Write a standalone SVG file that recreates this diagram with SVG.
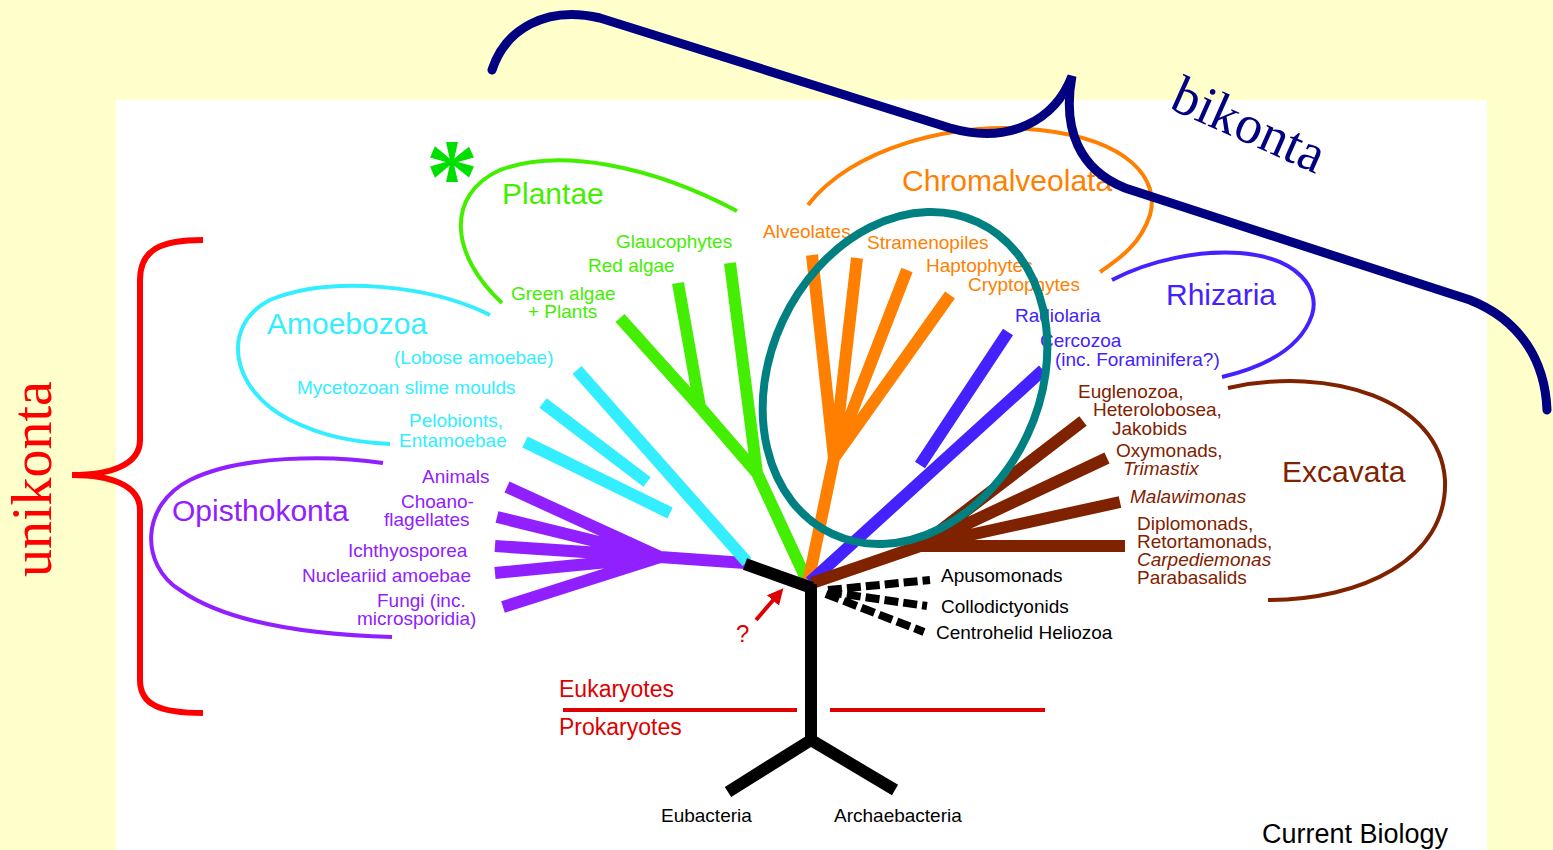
<svg xmlns="http://www.w3.org/2000/svg" width="1553" height="850" viewBox="0 0 1553 850">
<style>
text{font-family:"Liberation Sans",Arial,sans-serif}
.s{font-size:19px}
.b{font-size:30px}
.i{font-style:italic}
.loop{fill:none;stroke-width:4}
.br{fill:none;stroke-width:12;stroke-linecap:butt;stroke-linejoin:round}
.dash{fill:none;stroke:#000;stroke-width:8;stroke-dasharray:14 5}
.green{fill:#44EE00}.orange{fill:#FF8000}.blue{fill:#4422FF}.brown{fill:#7F2200}.cyan{fill:#33EEFF}.purple{fill:#9020FF}.blk{fill:#000}.red{fill:#DD0000}
</style>
<defs>
<marker id="ah" viewBox="0 0 10 10" refX="2" refY="5" markerWidth="4" markerHeight="4" orient="auto" markerUnits="strokeWidth">
<path d="M0 0 L10 5 L0 10 z" fill="#DD0000"/>
</marker>
</defs>
<rect width="1553" height="850" fill="#FFFFCC"/>
<rect x="116" y="100" width="1371" height="750" fill="#FFFFFF"/>

<g id="loops">
<path class="loop" stroke="#44EE00" d="M502 303 C450 255 445 195 500 170 C560 148 650 165 737 211"/>
<path class="loop" stroke="#FF8000" d="M808 205 C850 150 950 120 1040 130 C1130 140 1160 180 1150 215 C1140 245 1120 258 1100 272"/>
<path class="loop" stroke="#4422FF" d="M1112 280 C1150 260 1200 250 1240 253 C1300 258 1320 290 1312 315 C1300 350 1260 368 1222 377"/>
<path class="loop" stroke="#7F2200" d="M1228 388 C1330 365 1440 400 1445 480 C1448 560 1360 600 1268 600"/>
<path class="loop" stroke="#33EEFF" d="M490 315 C430 285 330 275 270 300 C220 325 230 390 290 420 C320 435 350 442 390 444"/>
<path class="loop" stroke="#9020FF" d="M383 463 C330 455 240 455 190 480 C140 505 140 565 180 590 C230 625 320 635 392 637"/>
</g>

<g id="connectors">
<path class="br" stroke="#9020FF" d="M745 563 L660 557 L507 487 M660 557 L497 517 M660 557 L495 546 M660 557 L495 573 M660 557 L503 607"/>
<path class="br" stroke="#33EEFF" d="M747 562 L577 370 M543 403 L647 482 M525 442 L670 513"/>
<path class="br" stroke="#44EE00" d="M808 583 L757 473 L700 407 L620 318 M808 583 L757 473 L730 263 M757 473 L700 407 L678 283"/>
<path class="br" stroke="#FF8000" d="M808 583 L834 458 L812 255 M808 583 L834 458 L857 258 M808 583 L834 458 L907 270 M808 583 L834 458 L950 295"/>
<path class="br" stroke="#4422FF" d="M810 582 L1043 370 M920 465 L1008 332"/>
<path class="br" stroke="#7F2200" d="M812 583 L920 546 L1125 546 M812 583 L920 546 L1083 421 M812 583 L920 546 L1107 458 M812 583 L920 546 L1120 502"/>
<path class="br" stroke="#000" d="M745 564 L812 588 M811 584 L811 742 M728 792 L811 740 L895 790"/>
<path class="dash" d="M828 590 L930 580 M828 592 L927 606 M826 594 L924 632"/>
<line x1="756" y1="620" x2="775" y2="598" stroke="#DD0000" stroke-width="4" marker-end="url(#ah)"/>
<path fill="none" stroke="#DD0000" stroke-width="4" d="M563 710 L797 710 M830 710 L1045 710"/>
</g>

<g id="plantae">
<text x="502" y="204" class="b green">Plantae</text>
<text x="616" y="248" class="s green">Glaucophytes</text>
<text x="588" y="272" class="s green">Red algae</text>
<text x="511" y="300" class="s green">Green algae</text>
<text x="528" y="318" class="s green">+ Plants</text>
<text x="452" y="212" text-anchor="middle" style="font-family:'Liberation Serif',serif;font-size:105px;font-weight:bold;fill:#00E000">*</text>
</g>

<g id="chromalveolata">
<text x="902" y="191" class="b orange">Chromalveolata</text>
<text x="763" y="238" class="s orange">Alveolates</text>
<text x="867" y="249" class="s orange">Stramenopiles</text>
<text x="926" y="272" class="s orange">Haptophytes</text>
<text x="968" y="291" class="s orange">Cryptophytes</text>
</g>

<g id="rhizaria">
<text x="1166" y="305" class="b blue">Rhizaria</text>
<text x="1015" y="322" class="s blue">Radiolaria</text>
<text x="1040" y="347" class="s blue">Cercozoa</text>
<text x="1055" y="366" class="s blue">(inc. Foraminifera?)</text>
</g>

<g id="excavata">
<text x="1282" y="482" class="b brown">Excavata</text>
<text x="1078" y="398" class="s brown">Euglenozoa,</text>
<text x="1093" y="416" class="s brown">Heterolobosea,</text>
<text x="1112" y="435" class="s brown">Jakobids</text>
<text x="1116" y="457" class="s brown">Oxymonads,</text>
<text x="1123" y="475" class="s i brown">Trimastix</text>
<text x="1130" y="503" class="s i brown">Malawimonas</text>
<text x="1137" y="530" class="s brown">Diplomonads,</text>
<text x="1137" y="548" class="s brown">Retortamonads,</text>
<text x="1137" y="566" class="s i brown">Carpediemonas</text>
<text x="1137" y="584" class="s brown">Parabasalids</text>
</g>

<g id="amoebozoa">
<text x="267" y="334" class="b cyan">Amoebozoa</text>
<text x="394" y="364" class="s cyan">(Lobose amoebae)</text>
<text x="297" y="394" class="s cyan">Mycetozoan slime moulds</text>
<text x="409" y="427" class="s cyan">Pelobionts,</text>
<text x="399" y="447" class="s cyan">Entamoebae</text>
</g>

<g id="opisthokonta">
<text x="172" y="521" class="b purple">Opisthokonta</text>
<text x="422" y="483" class="s purple">Animals</text>
<text x="401" y="508" class="s purple">Choano-</text>
<text x="384" y="526" class="s purple">flagellates</text>
<text x="348" y="557" class="s purple">Ichthyosporea</text>
<text x="302" y="582" class="s purple">Nucleariid amoebae</text>
<text x="377" y="607" class="s purple">Fungi (inc.</text>
<text x="357" y="625" class="s purple">microsporidia)</text>
</g>

<g id="others">
<text x="941" y="582" class="s blk">Apusomonads</text>
<text x="941" y="613" class="s blk">Collodictyonids</text>
<text x="936" y="639" class="s blk">Centrohelid Heliozoa</text>
<text x="736" y="642" class="red" style="font-size:24px">?</text>
</g>

<g id="roots">
<text x="559" y="697" class="red" style="font-size:23px">Eukaryotes</text>
<text x="559" y="735" class="red" style="font-size:23px">Prokaryotes</text>
<text x="661" y="822" class="s blk">Eubacteria</text>
<text x="834" y="822" class="s blk">Archaebacteria</text>
<text x="1262" y="843" class="blk" style="font-size:27px">Current Biology</text>
</g>

<g id="highlight">
<ellipse cx="905" cy="378" rx="135" ry="172" transform="rotate(25 905 378)" fill="none" stroke="#008080" stroke-width="8"/>
</g>

<g id="bikonta">
<path fill="none" stroke="#000080" stroke-width="9" stroke-linecap="round" d="M492 70 C505 30 545 5 600 18 L950 128 C1010 145 1055 120 1072 76 C1062 130 1080 170 1125 188 L1470 300 C1520 320 1545 360 1547 410"/>
<text transform="translate(1168,108) rotate(24)" style="font-family:'Liberation Serif',serif;font-size:54px;fill:#000080">bikonta</text>
</g>

<g id="unikonta">
<path fill="none" stroke="#FF0000" stroke-width="6" d="M203 240 C160 240 140 250 140 280 L140 440 C140 465 110 475 72 475 C110 475 140 485 140 510 L140 680 C140 705 160 713 203 713"/>
<text transform="translate(51,577) rotate(-90)" style="font-family:'Liberation Serif',serif;font-size:56px;fill:#FF0000">unikonta</text>
</g>
</svg>
